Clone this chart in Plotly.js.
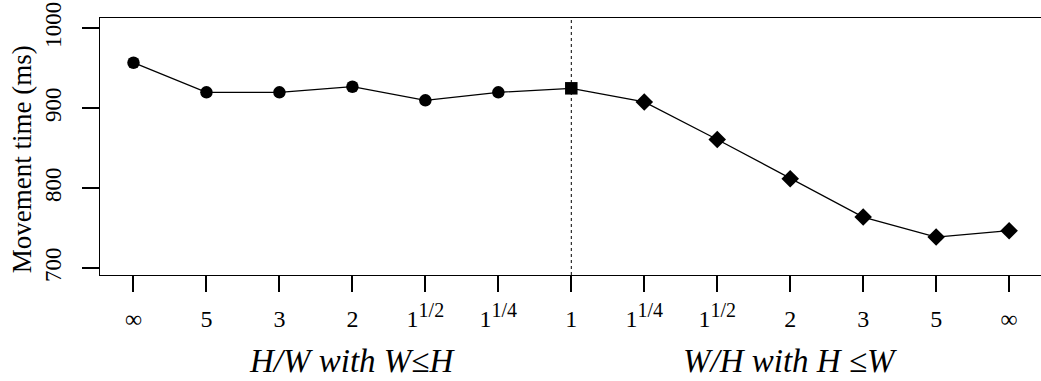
<!DOCTYPE html>
<html>
<head>
<meta charset="utf-8">
<script src="https://cdn.plot.ly/plotly-3.0.1.min.js"></script>
<style>html,body{margin:0;padding:0;background:#fff;}</style>
</head>
<body>
<div id="chart" style="width:1041px;height:381px;"></div>
<script>
// Tick labels, left to right
const tickLabels = ["∞", "5", "3", "2", "1<sup><span style='font-size:20px'>1/2</span></sup>", "1<sup><span style='font-size:20px'>1/4</span></sup>", "1",
                    "1<sup><span style='font-size:20px'>1/4</span></sup>", "1<sup><span style='font-size:20px'>1/2</span></sup>", "2", "3", "5", "∞"];
// H/W with W≤H (circles)
const leftValues = [957, 920, 920, 927, 910, 920];
// Square case (ratio 1)
const centerValue = [925];
// W/H with H≤W (diamonds)
const rightValues = [908, 861, 812, 764, 739, 747];
const axisTitles = ["<i>H/W with W≤H</i>", "<i>W/H with H ≤W</i>"];

const allValues = leftValues.concat(centerValue, rightValues);
const xs = allValues.map((v, i) => i);
const symbols = allValues.map((v, i) => i < leftValues.length ? "circle" : (i === leftValues.length ? "square" : "diamond"));
const sizes = symbols.map(s => s === "circle" ? 12.5 : (s === "square" ? 12.5 : 13.5));

const font = "Liberation Serif, Times New Roman, serif";

const trace = {
  x: xs, y: allValues, type: "scatter", mode: "lines+markers",
  line: {color: "#000", width: 1.3},
  marker: {color: "#000", opacity: 1, symbol: symbols, size: sizes, line: {width: 0}},
  hoverinfo: "skip", showlegend: false
};

const layout = {
  width: 1041, height: 381,
  margin: {l: 100, r: 0, t: 18, b: 106},
  paper_bgcolor: "#fff", plot_bgcolor: "#fff",
  font: {family: font, color: "#000", size: 23},
  xaxis: {
    range: [-0.459, 12.437], tickmode: "array", tickvals: xs, ticktext: tickLabels,
    showgrid: false, zeroline: false, showline: true, mirror: true, linecolor: "#000", linewidth: 1.3,
    ticks: "outside", ticklen: 16, tickwidth: 2, tickcolor: "#000", ticklabelstandoff: 6,
    tickfont: {family: font, size: 24, color: "#000"}
  },
  yaxis: {
    range: [691.6, 1012.9], tickvals: [700, 800, 900, 1000],
    showgrid: false, zeroline: false, showline: true, linecolor: "#000", linewidth: 1.3,
    ticks: "outside", ticklen: 17, tickwidth: 2, tickcolor: "#000", tickangle: -90,
    ticklabelstandoff: 12,
    tickfont: {family: font, size: 23, color: "#000"}
  },
  shapes: [{type: "line", xref: "x", yref: "paper", x0: leftValues.length, x1: leftValues.length, y0: 0, y1: 1,
            line: {color: "#000", width: 1, dash: "dot"}}],
  annotations: [
    {text: axisTitles[0], xref: "x", yref: "paper", x: 3, y: -0.335, xanchor: "center", yanchor: "middle",
     showarrow: false, font: {family: font, size: 33, color: "#000"}},
    {text: axisTitles[1], xref: "x", yref: "paper", x: 9, y: -0.335, xanchor: "center", yanchor: "middle",
     showarrow: false, font: {family: font, size: 33, color: "#000"}},
    {text: "Movement time (ms)", xref: "paper", yref: "paper", x: -0.083, y: 0.45, textangle: -90,
     xanchor: "center", yanchor: "middle", showarrow: false, font: {family: font, size: 27, color: "#000"}}
  ]
};

Plotly.newPlot("chart", [trace], layout, {staticPlot: true, displayModeBar: false});
</script>
</body>
</html>
